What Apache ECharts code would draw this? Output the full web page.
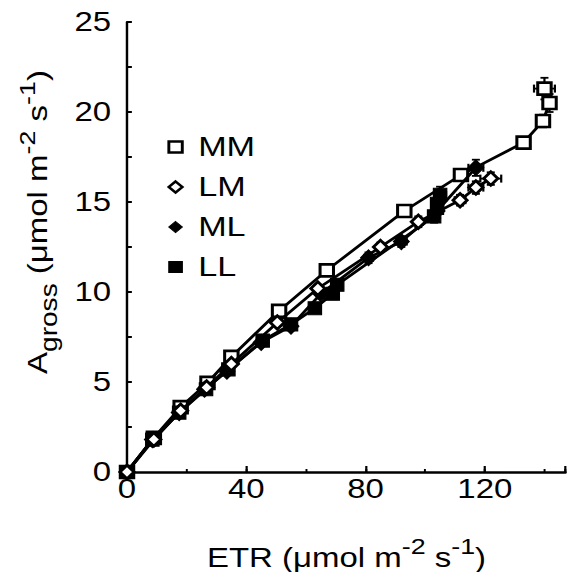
<!DOCTYPE html>
<html>
<head>
<meta charset="utf-8">
<script src="https://cdn.jsdelivr.net/npm/echarts@6/dist/echarts.min.js"></script>
<style>
html,body{margin:0;padding:0;background:#fff;}
#wrap{width:569px;height:572px;overflow:hidden;position:relative;background:#fff;}
#chart{width:466px;height:572px;transform:scaleX(1.221);transform-origin:0 0;}
</style>
</head>
<body>
<div id="wrap"><div id="chart"></div></div>
<script>
// ---- data ----
const seriesNames = ['MM', 'LM', 'ML', 'LL'];

const MM_x  = [0, 9, 18, 27, 35, 51, 67, 93, 112, 133, 139.5, 141.7, 140];
const MM_y  = [0, 1.9, 3.6, 4.95, 6.4, 8.95, 11.2, 14.5, 16.5, 18.3, 19.5, 20.5, 21.3];
const MM_ex = [0, 0.3, 0.5, 0.5, 0.5, 0.8, 1, 1, 1.2, 1.5, 2, 1.8, 3.5];
const MM_ey = [0, 0.1, 0.1, 0.1, 0.15, 0.2, 0.2, 0.25, 0.3, 0.3, 0.35, 0.5, 0.6];

const LM_x  = [0, 9, 18, 26.7, 35, 50.4, 64, 85, 97.7, 111.7, 117, 122];
const LM_y  = [0, 1.8, 3.4, 4.7, 6.0, 8.3, 10.2, 12.5, 13.9, 15.1, 15.8, 16.3];
const LM_ex = [0, 0.3, 0.5, 0.5, 0.6, 0.8, 1, 1.2, 1.5, 1.8, 2.5, 3.5];
const LM_ey = [0, 0.1, 0.1, 0.15, 0.15, 0.2, 0.2, 0.25, 0.3, 0.3, 0.35, 0.35];

const ML_x  = [0, 8.5, 17.5, 26, 33.5, 45, 55, 65, 81, 92, 104, 117];
const ML_y  = [0, 1.8, 3.3, 4.6, 5.6, 7.2, 8.1, 9.9, 11.9, 12.8, 14.5, 16.9];
const ML_ex = [0, 0.3, 0.4, 0.5, 0.6, 0.8, 1, 1.2, 1.5, 1.8, 2, 2.5];
const ML_ey = [0, 0.1, 0.1, 0.15, 0.15, 0.2, 0.2, 0.25, 0.3, 0.3, 0.4, 0.45];

const LL_x  = [0, 8.5, 17.5, 26.5, 34, 45.5, 55, 63, 69, 70.5, 103, 104, 105];
const LL_y  = [0, 1.8, 3.3, 4.6, 5.7, 7.3, 8.2, 9.1, 9.9, 10.4, 14.2, 14.9, 15.4];
const LL_ex = [0, 0.3, 0.4, 0.5, 0.6, 0.8, 1, 1, 1, 1.2, 1.5, 2, 2];
const LL_ey = [0, 0.1, 0.1, 0.15, 0.15, 0.2, 0.2, 0.25, 0.3, 0.3, 0.35, 0.4, 0.45];

const xTickLabels = [0, 40, 80, 120];
const yTickLabels = [0, 5, 10, 15, 20, 25];

// ---- layout ----
const S = 1.221;            // horizontal stretch of the reference figure
const FONT = '"Liberation Sans", Arial, Helvetica, sans-serif';

function pts(xs, ys) { return xs.map((x, i) => [x, ys[i]]); }
function errs(xs, ys, exs, eys) { return xs.map((x, i) => [x, ys[i], exs[i], eys[i]]); }

const errData = [].concat(
  errs(MM_x, MM_y, MM_ex, MM_ey),
  errs(LM_x, LM_y, LM_ex, LM_ey),
  errs(ML_x, ML_y, ML_ex, ML_ey),
  errs(LL_x, LL_y, LL_ex, LL_ey)
);

const chart = echarts.init(document.getElementById('chart'), null, { renderer: 'svg' });

const lineStyle = { color: '#000', width: 2.6 };
const openStyle = { color: '#fff', borderColor: '#000', borderWidth: 2.6 };
const fillStyle = { color: '#000', borderColor: '#000', borderWidth: 1 };

const option = {
  animation: false,
  backgroundColor: '#fff',
  grid: { left: 127 / S, top: 22, width: 441 / S, height: 450, containLabel: false },
  xAxis: [
    {
      type: 'value', min: 0, max: 147, interval: 20, position: 'bottom',
      axisLine: { show: true, onZero: false, lineStyle: { color: '#000', width: 2.5 } },
      axisTick: { show: true, inside: true, length: 3, lineStyle: { color: '#000', width: 1.6 } },
      axisLabel: { show: false },
      splitLine: { show: false }
    },
    {
      type: 'value', min: 0, max: 147, interval: 40, position: 'bottom',
      axisLine: { show: false, onZero: false },
      axisTick: { show: true, inside: true, length: 6, lineStyle: { color: '#000', width: 1.8 } },
      axisLabel: {
        show: true, margin: 3, color: '#000', fontSize: 27, fontFamily: FONT,
        formatter: v => (xTickLabels.indexOf(v) >= 0 ? String(v) : '')
      },
      splitLine: { show: false }
    }
  ],
  yAxis: {
    type: 'value', min: 0, max: 25, interval: 2.5,
    axisLine: { show: true, onZero: false, lineStyle: { color: '#000', width: 2 } },
    axisTick: { show: true, inside: true, length: 4, lineStyle: { color: '#000', width: 2 } },
    axisLabel: {
      show: true, margin: 13, color: '#000', fontSize: 27, fontFamily: FONT,
      formatter: v => (yTickLabels.indexOf(v) >= 0 ? String(v) : '')
    },
    splitLine: { show: false }
  },
  legend: {
    show: true, orient: 'vertical', left: 168 / S - 5.5, top: 128,
    itemWidth: 11, itemHeight: 11, itemGap: 12, selectedMode: false,
    textStyle: { color: '#000', fontSize: 28, fontFamily: FONT, lineHeight: 28, padding: [0, 0, 0, 8] },
    data: [
      { name: 'MM', icon: 'rect', itemStyle: { color: '#fff', borderColor: '#000', borderWidth: 2.4 } },
      { name: 'LM', icon: 'diamond', itemStyle: { color: '#fff', borderColor: '#000', borderWidth: 2.4 } },
      { name: 'ML', icon: 'diamond', itemStyle: { color: '#000', borderColor: '#000', borderWidth: 1 } },
      { name: 'LL', icon: 'rect', itemStyle: { color: '#000', borderColor: '#000', borderWidth: 1 } }
    ]
  },
  graphic: [
    {
      type: 'text', x: 346.5 / S, y: 557.5, silent: true,
      style: {
        text: '{b|ETR (μmol m}{sup|-2}{b| s}{sup|-1}{b|)}',
        align: 'center', verticalAlign: 'middle', fill: '#000',
        rich: {
          b: { fontSize: 27, fontFamily: FONT, lineHeight: 44, fill: '#000' },
          sup: { fontSize: 22, fontFamily: FONT, lineHeight: 20, verticalAlign: 'top', fill: '#000' }
        }
      }
    },
    {
      type: 'text', x: 38 / S, y: 222, rotation: Math.PI / 2, scaleX: S, scaleY: 1 / S, silent: true,
      style: {
        text: '{b|A}{sub|gross}{b| (μmol m}{sup|-2}{b| s}{sup|-1}{b|)}',
        align: 'center', verticalAlign: 'middle', fill: '#000',
        rich: {
          b: { fontSize: 27, fontFamily: FONT, lineHeight: 44, fill: '#000' },
          sub: { fontSize: 23, fontFamily: FONT, lineHeight: 34, verticalAlign: 'bottom', fill: '#000' },
          sup: { fontSize: 22, fontFamily: FONT, lineHeight: 20, verticalAlign: 'top', fill: '#000' }
        }
      }
    }
  ],
  series: [
    {
      type: 'custom', name: 'err', xAxisIndex: 0, yAxisIndex: 0, z: 2, clip: false, silent: true,
      data: errData,
      encode: { x: 0, y: 1 },
      renderItem: function (params, api) {
        const x = api.value(0), y = api.value(1), ex = api.value(2), ey = api.value(3);
        const children = [];
        const capV = 4, capH = 4 / S;
        const st = { stroke: '#000', lineWidth: 1.8 };
        if (ex > 0) {
          const l = api.coord([x - ex, y]), r = api.coord([x + ex, y]);
          children.push({ type: 'line', shape: { x1: l[0], y1: l[1], x2: r[0], y2: r[1] }, style: st });
          children.push({ type: 'line', shape: { x1: l[0], y1: l[1] - capV, x2: l[0], y2: l[1] + capV }, style: st });
          children.push({ type: 'line', shape: { x1: r[0], y1: r[1] - capV, x2: r[0], y2: r[1] + capV }, style: st });
        }
        if (ey > 0) {
          const t = api.coord([x, y + ey]), b = api.coord([x, y - ey]);
          children.push({ type: 'line', shape: { x1: t[0], y1: t[1], x2: b[0], y2: b[1] }, style: st });
          children.push({ type: 'line', shape: { x1: t[0] - capH, y1: t[1], x2: t[0] + capH, y2: t[1] }, style: st });
          children.push({ type: 'line', shape: { x1: b[0] - capH, y1: b[1], x2: b[0] + capH, y2: b[1] }, style: st });
        }
        return { type: 'group', children: children };
      }
    },
    {
      name: 'MM', type: 'line', xAxisIndex: 0, z: 3, clip: false,
      data: pts(MM_x, MM_y), symbol: 'rect', symbolSize: [11, 12], showAllSymbol: true,
      lineStyle: lineStyle, itemStyle: openStyle
    },
    {
      name: 'LL', type: 'line', xAxisIndex: 0, z: 4, clip: false,
      data: pts(LL_x, LL_y), symbol: 'rect', symbolSize: [11, 13], showAllSymbol: true,
      lineStyle: lineStyle, itemStyle: fillStyle
    },
    {
      name: 'ML', type: 'line', xAxisIndex: 0, z: 5, clip: false,
      data: pts(ML_x, ML_y), symbol: 'diamond', symbolSize: [13, 16], showAllSymbol: true,
      lineStyle: lineStyle, itemStyle: fillStyle
    },
    {
      name: 'LM', type: 'line', xAxisIndex: 0, z: 6, clip: false,
      data: pts(LM_x, LM_y), symbol: 'diamond', symbolSize: [11.5, 13.5], showAllSymbol: true,
      lineStyle: lineStyle, itemStyle: openStyle
    }
  ]
};
chart.setOption(option);
</script>
</body>
</html>
